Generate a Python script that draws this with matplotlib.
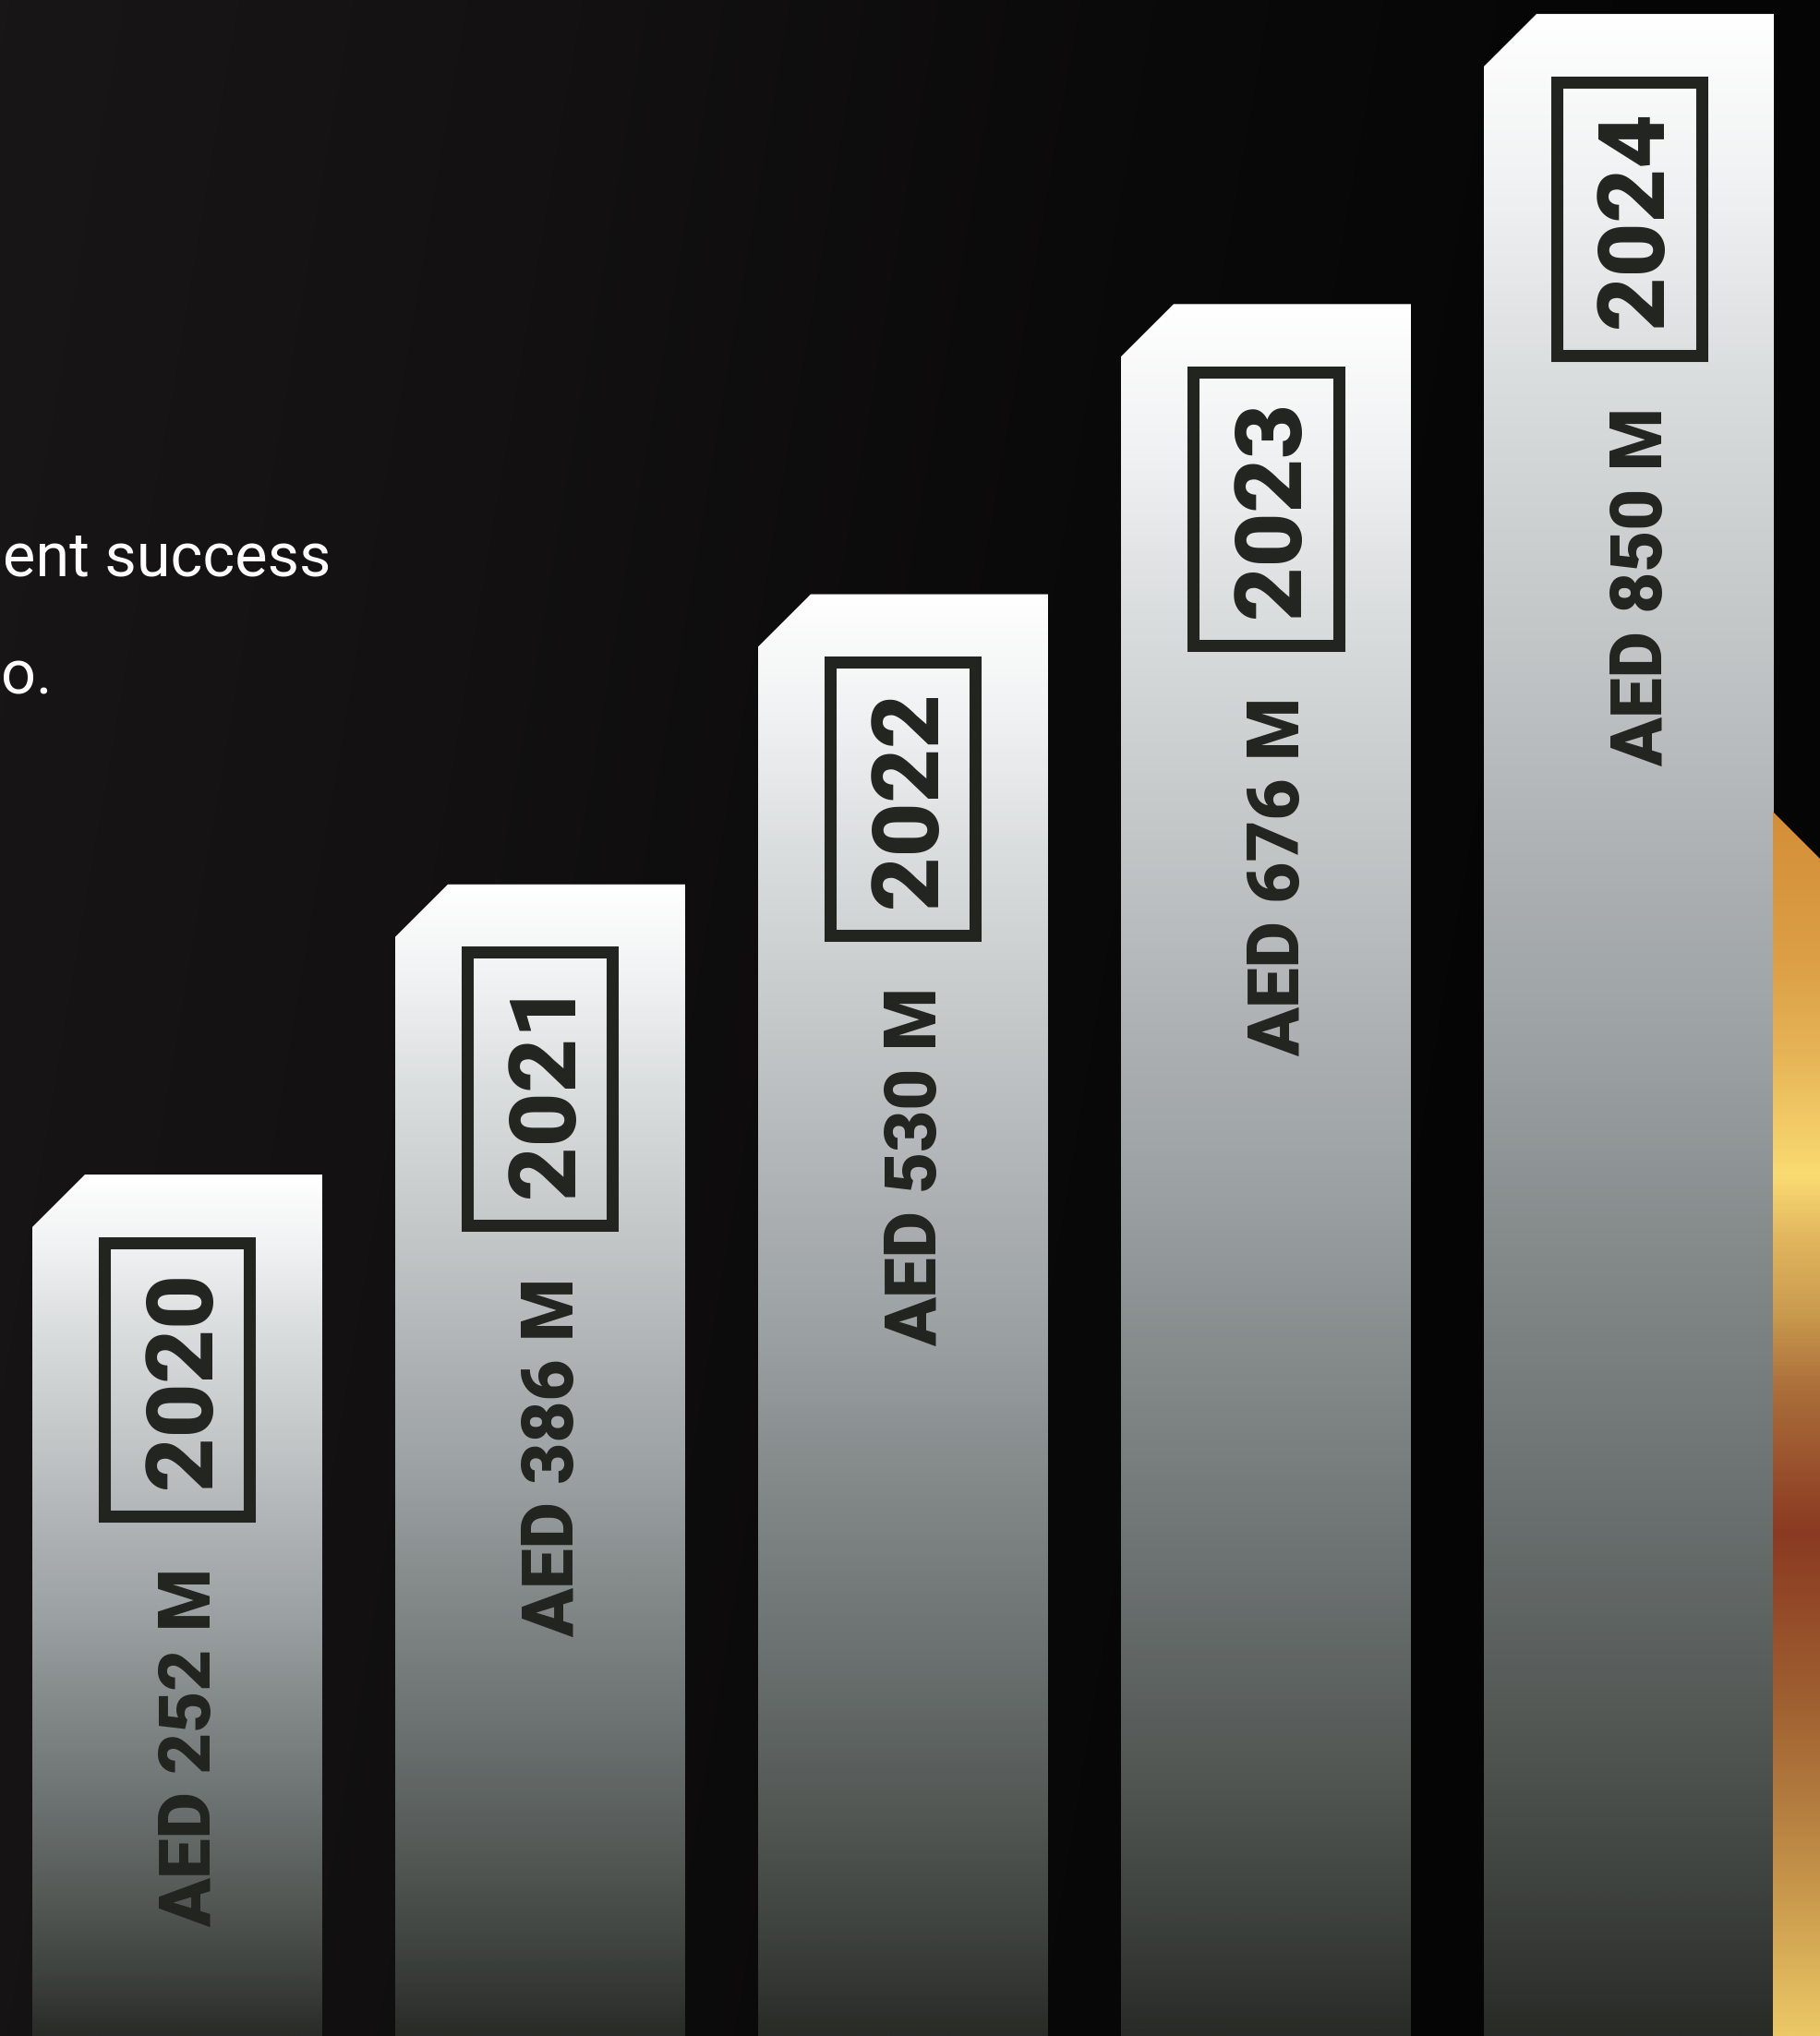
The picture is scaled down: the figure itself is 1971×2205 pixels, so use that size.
import numpy as np
import matplotlib.pyplot as plt
from matplotlib.patches import Polygon, Rectangle
from matplotlib.colors import LinearSegmentedColormap

############### DATA ###################
years = ["2020", "2021", "2022", "2023", "2024"]
values = [252, 386, 530, 676, 850]          # AED millions
levels = [1, 2, 3, 4, 5]                    # staircase step of each bar
labels = ["AED %d M" % v for v in values]

############### STYLE ###################
W, H = 1971, 2205
ink = "#22241f"
font = "Roboto"

bar_cmap = LinearSegmentedColormap.from_list("silver", [
    (0.00, "#ffffff"), (0.08, "#f1f2f3"), (0.17, "#dcdfe0"), (0.32, "#c0c4c5"),
    (0.44, "#a9adb0"), (0.52, "#9aa0a1"), (0.60, "#878d8d"), (0.74, "#6a706f"),
    (0.85, "#525754"), (0.93, "#3e423e"), (1.00, "#292b27")])

gold_stops = [(879, "#d38f38"), (1040, "#dc9f46"), (1140, "#e6b456"), (1273, "#fadb72"),
              (1340, "#e2b65e"), (1423, "#c99a4e"), (1505, "#ab6e3a"), (1660, "#8a3a22"),
              (1836, "#9e5e30"), (1947, "#b27a3e"), (2057, "#c99a4c"), (2205, "#ecc866")]
gold_cmap = LinearSegmentedColormap.from_list(
    "gold", [((y - 879) / (H - 879), c) for y, c in gold_stops])

bg_cmap = LinearSegmentedColormap.from_list("bg", ["#191617", "#131112", "#0b0a0b", "#050505"])

fig = plt.figure(figsize=(W / 100, H / 100), dpi=100)

############### BACKGROUND ###################
bg = fig.add_axes([0, 0, 1, 1])
bg.axis("off")
yy, xx = np.mgrid[0:1:400j, 0:1:400j]
tt = np.clip((xx * W + 0.17 * yy * H) / (W * 0.95), 0, 1)
bg.imshow(tt, cmap=bg_cmap, aspect="auto", extent=[0, 1, 0, 1], origin="upper",
          interpolation="bilinear")
bg.set_xlim(0, 1)
bg.set_ylim(0, 1)

############### BARS ###################
ax = fig.add_axes([0, 0, 1, 1])
ax.patch.set_alpha(0)
ax.axis("off")
x0, x1 = -0.4885, 4.5267
y0, y1 = -1.969, 5.048

w = 0.799      # bar width
cx, cy = 0.145, 0.181    # chamfer
bw, bh, boff = 0.3995, 0.942, 0.234   # year box
grad = bar_cmap(np.linspace(0, 1, 512))[:, None, :]

for i, (yr, lab, lev) in enumerate(zip(years, labels, levels)):
    left, right = i - w / 2, i + w / 2
    shape = Polygon([(left, y0 - 0.05), (left, lev - cy), (left + cx, lev),
                     (right, lev), (right, y0 - 0.05)], closed=True,
                    facecolor="none", edgecolor="none")
    ax.add_patch(shape)
    im = ax.imshow(grad, extent=[left, right, y0, lev], origin="upper",
                   aspect="auto", interpolation="bilinear")
    im.set_clip_path(shape)

    ax.add_patch(Rectangle((i - bw / 2, lev - boff - bh), bw, bh, fill=False,
                           lw=9.4, edgecolor=ink, joinstyle="miter"))
    ax.text(i + 0.0916, lev - 0.7065, yr, rotation=90, rotation_mode="anchor",
            ha="center", va="baseline", fontsize=73, fontweight=900,
            family=font, color=ink)
    ax.text(i + 0.0916, lev - 1.355, lab, rotation=90, rotation_mode="anchor",
            ha="right", va="baseline", fontsize=56, fontweight=900,
            family=font, color=ink)

ax.set_xlim(x0, x1)
ax.set_ylim(y0, y1)

############### DECORATION ###################
deco = fig.add_axes([0, 0, 1, 1])
deco.patch.set_alpha(0)
deco.axis("off")
gold = Polygon([(1920, H + 5), (1920, 879), (1980, 939), (1980, H + 5)], closed=True,
               facecolor="none", edgecolor="none")
deco.add_patch(gold)
gim = deco.imshow(gold_cmap(np.linspace(0, 1, 512))[:, None, :], extent=[1920, 1980, H, 879],
                  origin="upper", aspect="auto", interpolation="bilinear")
gim.set_clip_path(gold)

deco.text(358, 623, "ent success", ha="right", va="baseline", fontsize=48,
          family=font, color="white")
deco.text(57, 752, "o.", ha="right", va="baseline", fontsize=48,
          family=font, color="white")
deco.set_xlim(0, W)
deco.set_ylim(H, 0)

fig.savefig("out.png", dpi=100)
